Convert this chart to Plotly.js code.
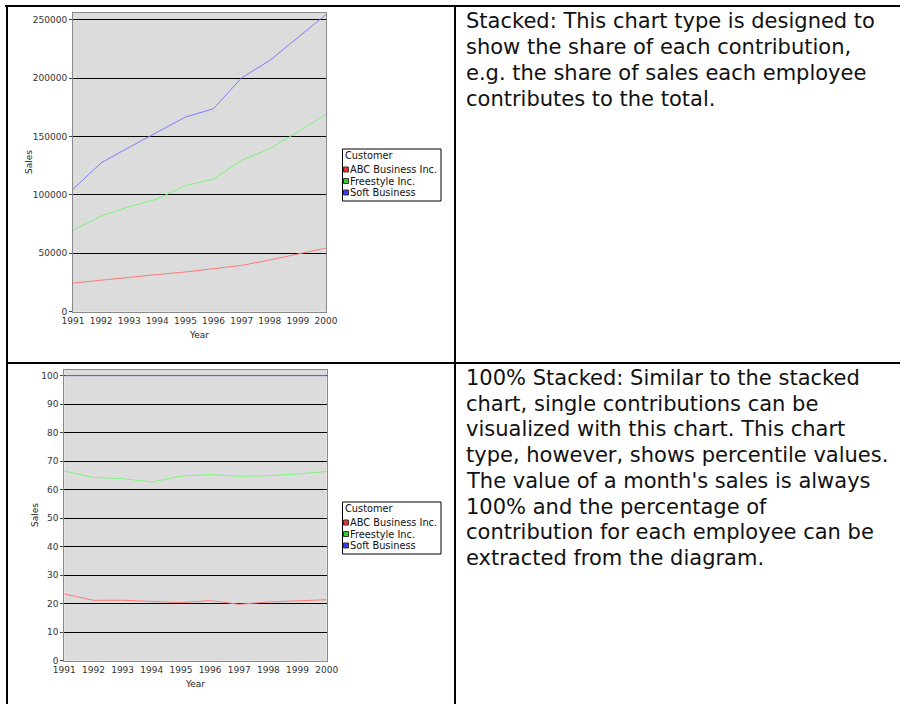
<!DOCTYPE html>
<html>
<head>
<meta charset="utf-8">
<script src="https://cdn.plot.ly/plotly-3.0.1.min.js"></script>
<style>
  html, body { margin: 0; padding: 0; background: #ffffff; }
  #page { width: 900px; height: 704px; }
</style>
</head>
<body>
<div id="page"></div>
<script>
// Yearly sales per customer
const years = [1991, 1992, 1993, 1994, 1995, 1996, 1997, 1998, 1999, 2000];
const abcSales = [24550, 27000, 29850, 31850, 34000, 36650, 39650, 44300, 49600, 54450];
const freestyleSales = [45300, 54900, 60100, 64650, 74000, 76850, 89950, 95300, 104350, 114450];
const softSales = [35050, 45500, 50850, 57400, 58700, 60300, 70700, 75500, 81050, 85500];

const customers = ['ABC Business Inc.', 'Freestyle Inc.', 'Soft Business'];
const lineColors = ['#ff7a7a', '#7af57a', '#7c7cff'];
const keyColors = ['#f03030', '#30d030', '#3a3aff'];
const legendTitle = 'Customer';
const yearTicks = years.map(String);

const stackedText = [
  'Stacked: This chart type is designed to',
  'show the share of each contribution,',
  'e.g. the share of sales each employee',
  'contributes to the total.'
];
const percentText = [
  '100% Stacked: Similar to the stacked',
  'chart, single contributions can be',
  'visualized with this chart. This chart',
  'type, however, shows percentile values.',
  "The value of a month's sales is always",
  '100% and the percentage of',
  'contribution for each employee can be',
  'extracted from the diagram.'
];

const W = 900, H = 704;
const px = v => v / W;
const py = v => 1 - v / H;

const series = [abcSales, freestyleSales, softSales];
const traces = [];
series.forEach((vals, i) => {
  traces.push({
    x: years, y: vals, name: customers[i], type: 'scatter', mode: 'lines',
    stackgroup: 'absolute', fill: 'none',
    line: { color: lineColors[i], width: 1 },
    xaxis: 'x', yaxis: 'y', showlegend: false, hoverinfo: 'x+y+name'
  });
});
series.forEach((vals, i) => {
  const t = {
    x: years, y: vals, name: customers[i], type: 'scatter', mode: 'lines',
    stackgroup: 'percent', fill: 'none',
    line: { color: lineColors[i], width: 1 },
    xaxis: 'x2', yaxis: 'y2', showlegend: false, hoverinfo: 'x+y+name'
  };
  if (i === 0) t.groupnorm = 'percent';
  traces.push(t);
});

const tickFont = { family: 'DejaVu Sans, sans-serif', size: 9, color: '#333333' };
const titleFont = { family: 'DejaVu Sans, sans-serif', size: 9, color: '#222222' };

function xAxis(left, right) {
  return {
    domain: [px(left), px(right)], range: [1991, 2000],
    tickvals: years, ticktext: yearTicks, tickfont: tickFont,
    ticks: '', showgrid: false, zeroline: false,
    showline: true, linecolor: '#8a8a8a', linewidth: 1, mirror: true,
    title: { text: 'Year', font: titleFont, standoff: 7 }
  };
}
function yAxis(top, bottom, range, dtick) {
  return {
    domain: [py(bottom), py(top)], range: range, dtick: dtick, tick0: 0,
    tickformat: 'd', tickfont: tickFont,
    ticks: 'outside', ticklen: 3, tickcolor: '#444444',
    showgrid: true, gridcolor: '#000000', gridwidth: 1, zeroline: false,
    showline: true, linecolor: '#8a8a8a', linewidth: 1, mirror: true
  };
}

// Table frame
const shapes = [
  { type: 'line', xref: 'paper', yref: 'paper', x0: px(5), x1: px(900), y0: py(6), y1: py(6), line: { color: '#000', width: 2 } },
  { type: 'line', xref: 'paper', yref: 'paper', x0: px(7), x1: px(7), y0: py(5), y1: py(704), line: { color: '#000', width: 2 } },
  { type: 'line', xref: 'paper', yref: 'paper', x0: px(6), x1: px(900), y0: py(363), y1: py(363), line: { color: '#000', width: 2 } },
  { type: 'line', xref: 'paper', yref: 'paper', x0: px(455), x1: px(455), y0: py(5), y1: py(704), line: { color: '#000', width: 2 } }
];
const annotations = [];

// Vertical "Sales" labels beside each value axis
function addSalesLabel(x, y) {
  annotations.push({ xref: 'paper', yref: 'paper', x: px(x), y: py(y),
    xanchor: 'center', yanchor: 'middle', textangle: -90, showarrow: false,
    text: 'Sales', font: titleFont });
}
addSalesLabel(29, 162);
addSalesLabel(35, 515);

// Hand-built customer keys next to each chart
const keyFont = { family: 'DejaVu Sans, sans-serif', size: 9.8, color: '#111' };
function addKey(boxTop) {
  const left = 342.5, right = 441;
  shapes.push({ type: 'rect', xref: 'paper', yref: 'paper',
    x0: px(left), x1: px(right), y0: py(boxTop), y1: py(boxTop + 52),
    line: { color: '#000', width: 1 }, fillcolor: '#ffffff' });
  annotations.push({ xref: 'paper', yref: 'paper', x: px(342.5), y: py(boxTop + 6.5),
    xanchor: 'left', yanchor: 'middle', showarrow: false, text: legendTitle,
    font: keyFont });
  customers.forEach((name, i) => {
    const cy = boxTop + 20.5 + i * 11.5;
    shapes.push({ type: 'rect', xref: 'paper', yref: 'paper',
      x0: px(343.5), x1: px(348.5), y0: py(cy - 2.5), y1: py(cy + 2.5),
      line: { color: '#333', width: 1 }, fillcolor: keyColors[i] });
    annotations.push({ xref: 'paper', yref: 'paper', x: px(347.5), y: py(cy),
      xanchor: 'left', yanchor: 'middle', showarrow: false, text: name,
      font: keyFont });
  });
}
addKey(149);
addKey(502);

// Description text, one annotation per line
const bodyFont = { family: 'DejaVu Sans, Verdana, sans-serif', size: 21, color: '#111111' };
function addParagraph(lines, firstCenter) {
  lines.forEach((line, i) => {
    annotations.push({ xref: 'paper', yref: 'paper', x: px(464), y: py(firstCenter + i * 25.7),
      xanchor: 'left', yanchor: 'middle', align: 'left', showarrow: false,
      text: line, font: bodyFont });
  });
}
addParagraph(stackedText, 21.5);
addParagraph(percentText, 378);

const layout = {
  width: W, height: H,
  margin: { l: 0, r: 0, t: 0, b: 0 },
  paper_bgcolor: '#ffffff', plot_bgcolor: '#dcdcdc',
  showlegend: false,
  xaxis: xAxis(73, 326),
  yaxis: yAxis(12.7, 311.7, [0, 256000], 50000),
  xaxis2: xAxis(64.3, 326.7),
  yaxis2: yAxis(370, 660.7, [0, 102], 10),
  shapes: shapes,
  annotations: annotations
};
layout.xaxis2.anchor = 'y2';
layout.yaxis2.anchor = 'x2';

Plotly.newPlot('page', traces, layout, { staticPlot: true, displayModeBar: false });
</script>
</body>
</html>
